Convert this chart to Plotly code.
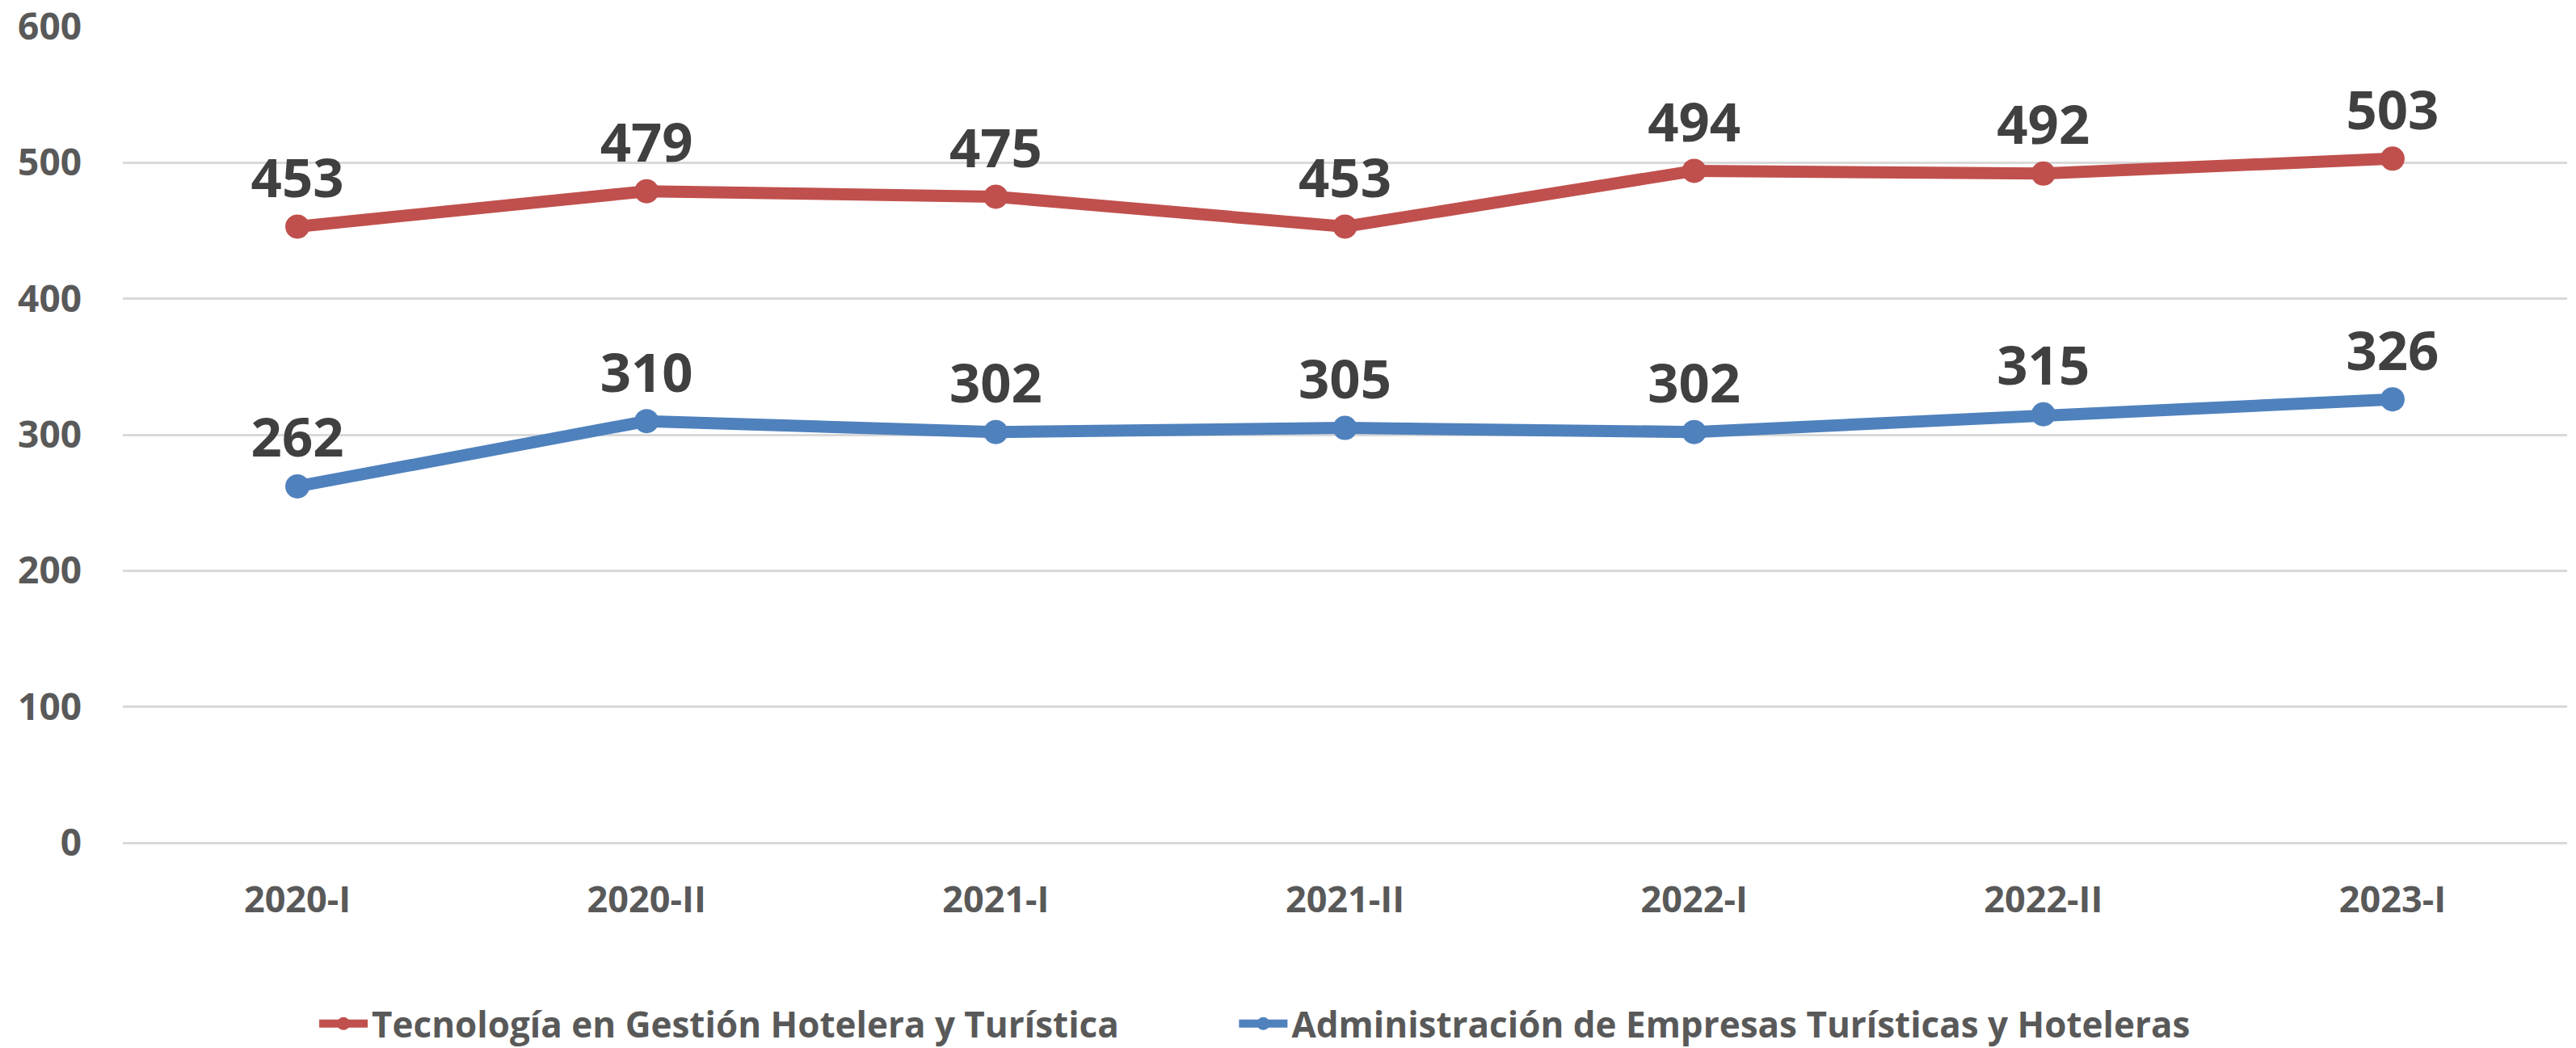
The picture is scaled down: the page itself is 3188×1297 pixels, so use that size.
import plotly.graph_objects as go

periods = ["2020-I", "2020-II", "2021-I", "2021-II", "2022-I", "2022-II", "2023-I"]
tecnologia = [453, 479, 475, 453, 494, 492, 503]
administracion = [262, 310, 302, 305, 302, 315, 326]

series_names = [
    "Tecnología en Gestión Hotelera y Turística",
    "Administración de Empresas Turísticas y Hoteleras",
]
series_colors = ["#C0504D", "#4F81BD"]
legend_ids = ["legend", "legend2"]

FONT = "Open Sans"

fig = go.Figure()
for name, values, color, leg in zip(series_names, [tecnologia, administracion], series_colors, legend_ids):
    fig.add_trace(go.Scatter(
        x=periods, y=values, name=name, legend=leg, showlegend=True,
        mode="lines+markers+text",
        line=dict(color=color, width=15),
        marker=dict(color=color, size=30),
        text=[str(v) for v in values],
        textposition="top center",
        textfont=dict(family=FONT, size=67, color="#404040", weight="bold"),
    ))

legend_style = dict(
    orientation="h", xanchor="left", y=-0.222, yanchor="middle",
    font=dict(family=FONT, size=44, color="#595959", weight="bold"),
    itemwidth=60,
)

fig.update_layout(
    width=3188, height=1297,
    showlegend=True,
    paper_bgcolor="white", plot_bgcolor="white",
    margin=dict(l=152, r=11, t=33, b=254, autoexpand=False),
    font=dict(family=FONT, color="#595959"),
    legend=dict(x=0.0787, **legend_style),
    legend2=dict(x=0.455, **legend_style),
)
fig.update_xaxes(
    type="category", range=[-0.5, 6.5], showgrid=False, showline=False, zeroline=False,
    ticks="", ticklabelstandoff=40,
    tickfont=dict(family=FONT, size=45, color="#595959", weight="bold"),
)
fig.update_yaxes(
    range=[0, 600], dtick=100, showgrid=True, gridcolor="#D9D9D9", gridwidth=3,
    zeroline=True, zerolinecolor="#D9D9D9", zerolinewidth=3, showline=False,
    ticks="", ticklabelstandoff=50,
    tickfont=dict(family=FONT, size=46, color="#595959", weight="bold"),
)

# drop the default body margin so the figure fills the window exactly
fig.write_html("out.html", config={"displayModeBar": False},
               post_script="document.body.style.margin = '0';")
